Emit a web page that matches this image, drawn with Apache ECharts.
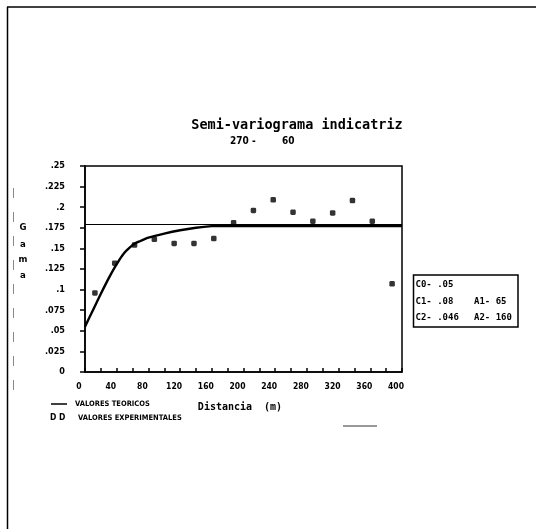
<!DOCTYPE html>
<html>
<head>
<meta charset="utf-8">
<script src="https://cdn.jsdelivr.net/npm/echarts@6/dist/echarts.min.js"></script>
<style>
  html, body { margin: 0; padding: 0; background: #fff; }
  #chart { width: 536px; height: 529px; }
</style>
</head>
<body>
<div id="chart"></div>
<script>
// Experimental indicator semi-variogram (lag distance in m, gamma)
const lagDist  = [12.5, 37.5, 62.5, 87.5, 112.5, 137.5, 162.5, 187.5, 212.5, 237.5, 262.5, 287.5, 312.5, 337.5, 362.5, 387.5];
const gammaExp = [0.096, 0.132, 0.154, 0.161, 0.156, 0.156, 0.162, 0.181, 0.196, 0.209, 0.194, 0.183, 0.193, 0.208, 0.183, 0.107];

// Fitted (theoretical) model
const modelDist  = [0, 10, 20, 30, 40, 50, 60, 65, 70, 80, 100, 120, 140, 160, 400];
const gammaModel = [0.055, 0.075, 0.095, 0.114, 0.131, 0.145, 0.154, 0.157, 0.159, 0.163, 0.168, 0.172, 0.175, 0.177, 0.177];

// Horizontal reference level
const sillLevel = 0.179;

// Axis ranges and ticks
const xRange = [0, 400];
const xStep = 20;
const xLabelStep = 40;
const yRange = [0, 0.25];
const yStep = 0.025;

// Model parameter table
const paramLeft  = ['C0- .05', 'C1- .08', 'C2- .046'];
const paramRight = ['', 'A1- 65', 'A2- 160'];

// Texts
const titleText = 'Semi-variograma indicatriz';
const subTitleA = '270 -';
const subTitleB = '60';
const xName = 'Distancia  (m)';
const yNameLetters = ['G', 'a', 'm', 'a'];
const legendModel = 'VALORES TEORICOS';
const legendExp = 'VALORES EXPERIMENTALES';

const chart = echarts.init(document.getElementById('chart'), null, { renderer: 'canvas' });

const lblFont = 'DejaVu Sans Condensed';
const monoFont = 'DejaVu Sans Mono';

function fmtY(v) {
  if (Math.abs(v) < 1e-9) return '0';
  const s = (Math.round(v * 1000) / 1000).toString();
  return s.replace(/^0\./, '.');
}

function txt(text, x, y, font, align) {
  return {
    type: 'text',
    style: { text: text, x: x, y: y, textAlign: align || 'left', textVerticalAlign: 'middle', font: font, fill: '#000' }
  };
}

const graphics = [
  // page frame
  { type: 'line', shape: { x1: 7, y1: 7, x2: 536, y2: 7 }, style: { stroke: '#000', lineWidth: 1.5 } },
  { type: 'line', shape: { x1: 7.5, y1: 7, x2: 7.5, y2: 529 }, style: { stroke: '#000', lineWidth: 1.5 } },
  { type: 'line', shape: { x1: 13.5, y1: 188, x2: 13.5, y2: 395 }, style: { stroke: '#888', lineWidth: 1, lineDash: [10, 14] } },
  { type: 'line', shape: { x1: 343, y1: 426, x2: 377, y2: 426 }, style: { stroke: '#333', lineWidth: 1 } },
  // titles
  txt(titleText, 297, 125, 'bold 13.5px ' + monoFont, 'center'),
  txt(subTitleA, 230, 141.5, 'bold 10px ' + lblFont, 'left'),
  txt(subTitleB, 282, 141.5, 'bold 10px ' + lblFont, 'left'),
  // x axis name
  txt(xName, 240, 407, 'bold 10px ' + monoFont, 'center'),
  // legend
  { type: 'line', shape: { x1: 51, y1: 404, x2: 67, y2: 404 }, style: { stroke: '#000', lineWidth: 1.5 } },
  txt(legendModel, 75, 404, 'bold 7.5px ' + lblFont),
  txt('D D', 50, 418, 'bold 8.5px ' + lblFont),
  txt(legendExp, 78, 418, 'bold 7.5px ' + lblFont),
  // parameter box
  { type: 'rect', shape: { x: 413.5, y: 275, width: 104.5, height: 52 }, style: { fill: 'none', stroke: '#000', lineWidth: 1.5 } }
];

// vertical y-axis name
const yNameRows = [228, 245, 260, 276];
yNameLetters.forEach((ch, i) => {
  graphics.push(txt(ch, 23, yNameRows[i], 'bold 9.5px ' + lblFont, 'center'));
});

// parameter rows
const rowY = [285, 301.5, 317.5];
paramLeft.forEach((t, i) => {
  graphics.push(txt(t, 415.5, rowY[i], 'bold 9px ' + monoFont));
  if (paramRight[i]) graphics.push(txt(paramRight[i], 474, rowY[i], 'bold 9px ' + monoFont));
});

const option = {
  backgroundColor: '#fff',
  animation: false,
  grid: {
    left: 85, top: 166, width: 317, height: 206,
    show: true, borderColor: '#000', borderWidth: 1.5, backgroundColor: 'transparent'
  },
  xAxis: {
    type: 'value',
    min: xRange[0], max: xRange[1], interval: xStep,
    axisLine: { show: true, onZero: false, lineStyle: { color: '#000', width: 1.5 } },
    axisTick: { show: true, inside: true, length: 4, lineStyle: { color: '#000', width: 1.5 } },
    axisLabel: {
      color: '#000', fontFamily: lblFont, fontWeight: 'bold', fontSize: 8.5, margin: 10,
      padding: [0, 12, 0, 0],
      formatter: v => (v % xLabelStep === 0 ? String(v) : '')
    },
    splitLine: { show: false }
  },
  yAxis: {
    type: 'value',
    min: yRange[0], max: yRange[1], interval: yStep,
    axisLine: { show: true, onZero: false, lineStyle: { color: '#000', width: 1.5 } },
    axisTick: { show: true, inside: false, length: 5, lineStyle: { color: '#000', width: 1.5 } },
    axisLabel: {
      color: '#000', fontFamily: lblFont, fontWeight: 'bold', fontSize: 9, margin: 20,
      padding: [5, 0, 0, 0],
      formatter: fmtY
    },
    splitLine: { show: false }
  },
  series: [
    {
      name: 'sill',
      type: 'line',
      data: [[xRange[0], sillLevel], [xRange[1], sillLevel]],
      showSymbol: false,
      lineStyle: { color: '#000', width: 1.2 },
      z: 2
    },
    {
      name: legendModel,
      type: 'line',
      data: modelDist.map((d, i) => [d, gammaModel[i]]),
      showSymbol: false,
      smooth: 0.2,
      lineStyle: { color: '#000', width: 2.4 },
      z: 3
    },
    {
      name: legendExp,
      type: 'scatter',
      data: lagDist.map((d, i) => [d, gammaExp[i]]),
      symbol: 'roundRect',
      symbolSize: 5.5,
      itemStyle: { color: '#000' },
      z: 4
    }
  ],
  graphic: graphics
};

chart.setOption(option);
</script>
</body>
</html>
